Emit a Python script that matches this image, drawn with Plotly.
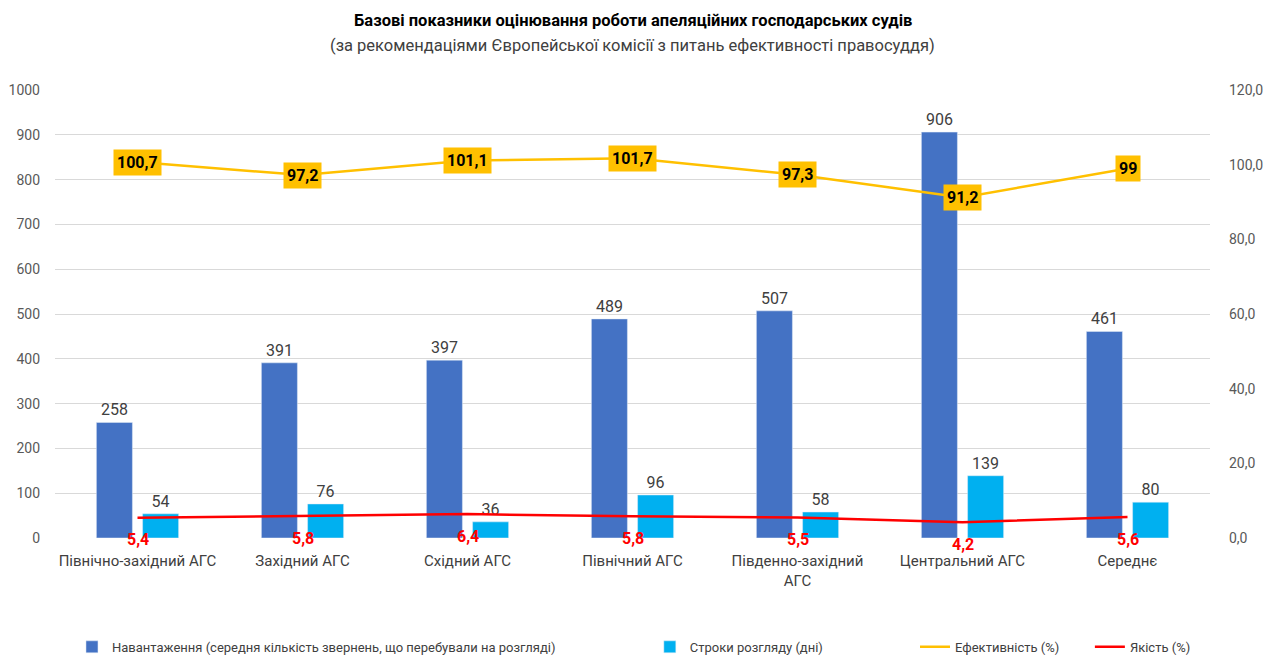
import plotly.graph_objects as go

# Data
courts = ["Північно-західний АГС", "Західний АГС", "Східний АГС", "Північний АГС",
          "Південно-західний<br>АГС", "Центральний АГС", "Середнє"]
workload = [258, 391, 397, 489, 507, 906, 461]
days = [54, 76, 36, 96, 58, 139, 80]
efficiency = [100.7, 97.2, 101.1, 101.7, 97.3, 91.2, 99]
quality = [5.4, 5.8, 6.4, 5.8, 5.5, 4.2, 5.6]

left_ticks = list(range(0, 1001, 100))
right_ticks = [0, 20, 40, 60, 80, 100, 120]

FONT = "Roboto"
TXT = "#404040"


def fmt(v):
    s = f"{v:g}"
    return s.replace(".", ",")


fig = go.Figure()

fig.add_trace(go.Bar(
    x=courts, y=workload, name="Навантаження (середня кількість звернень, що перебували на розгляді)",
    marker_color="#4472C4", text=[str(v) for v in workload], textposition="outside",
    textfont=dict(size=16, color=TXT, family=FONT), cliponaxis=False, legend="legend",
))
fig.add_trace(go.Bar(
    x=courts, y=days, name="Строки розгляду (дні)",
    marker_color="#00B0F0", text=[str(v) for v in days], textposition="outside",
    textfont=dict(size=16, color=TXT, family=FONT), cliponaxis=False, legend="legend2",
))
fig.add_trace(go.Scatter(
    x=courts, y=efficiency, name="Ефективність (%)", yaxis="y2", mode="lines",
    line=dict(color="#FFC000", width=2.5), legend="legend3",
))
fig.add_trace(go.Scatter(
    x=courts, y=quality, name="Якість (%)", yaxis="y2", mode="lines",
    line=dict(color="#FF0000", width=2.5), legend="legend4",
))

# yellow label boxes for efficiency
for c, v in zip(courts, efficiency):
    fig.add_annotation(
        x=c, y=v, yref="y2", text=f"<b>{fmt(v)}</b>", showarrow=False,
        bgcolor="#FFC000", font=dict(size=16, color="#000000", family=FONT),
        borderpad=3,
    )

# red labels under the quality line
for c, v in zip(courts, quality):
    fig.add_annotation(
        x=c, y=v, yref="y2", text=f"<b>{fmt(v)}</b>", showarrow=False,
        font=dict(size=16, color="#FF0000", family=FONT), yshift=-22,
    )

# title + subtitle
fig.add_annotation(
    x=0.5, y=1.156, xref="paper", yref="paper", showarrow=False, yanchor="middle",
    text="<b>Базові показники оцінювання роботи апеляційних господарських судів</b>",
    font=dict(size=16.5, color="#000000", family=FONT),
)
fig.add_annotation(
    x=0.5, y=1.10, xref="paper", yref="paper", showarrow=False, yanchor="middle",
    text="(за рекомендаціями Європейської комісії з питань ефективності правосуддя)",
    font=dict(size=16.5, color=TXT, family=FONT),
)

leg = dict(orientation="h", y=-0.243, yanchor="middle", xanchor="left",
           font=dict(size=13, color=TXT, family=FONT), bgcolor="rgba(0,0,0,0)")

# page body has an 8px margin, so the figure is a bit smaller than the window
fig.update_layout(
    width=1267, height=647,
    margin=dict(l=47, r=65, t=82, b=117, autoexpand=False),
    paper_bgcolor="white", plot_bgcolor="white",
    font=dict(family=FONT, color=TXT),
    separators=", ",
    barmode="group", bargap=0.44, bargroupgap=0.22,
    showlegend=True,
    legend=dict(leg, x=0.0147),
    legend2=dict(leg, x=0.515),
    legend3=dict(leg, x=0.7446),
    legend4=dict(leg, x=0.896),
    xaxis=dict(tickfont=dict(size=15, color=TXT), showline=False, ticks="",
               automargin=False, ticklabelstandoff=12),
    yaxis=dict(range=[0, 1000], tickvals=left_ticks, gridcolor="#D9D9D9", automargin=False,
               zeroline=False, tickfont=dict(size=14, color="#595959"), ticks="",
               ticklabelstandoff=14),
    yaxis2=dict(range=[0, 120], tickvals=right_ticks, tickformat=".1f", overlaying="y",
                side="right", showgrid=False, zeroline=False, automargin=False,
                tickfont=dict(size=14, color="#595959"), ticklabelstandoff=18),
)

fig.write_html("out.html")
